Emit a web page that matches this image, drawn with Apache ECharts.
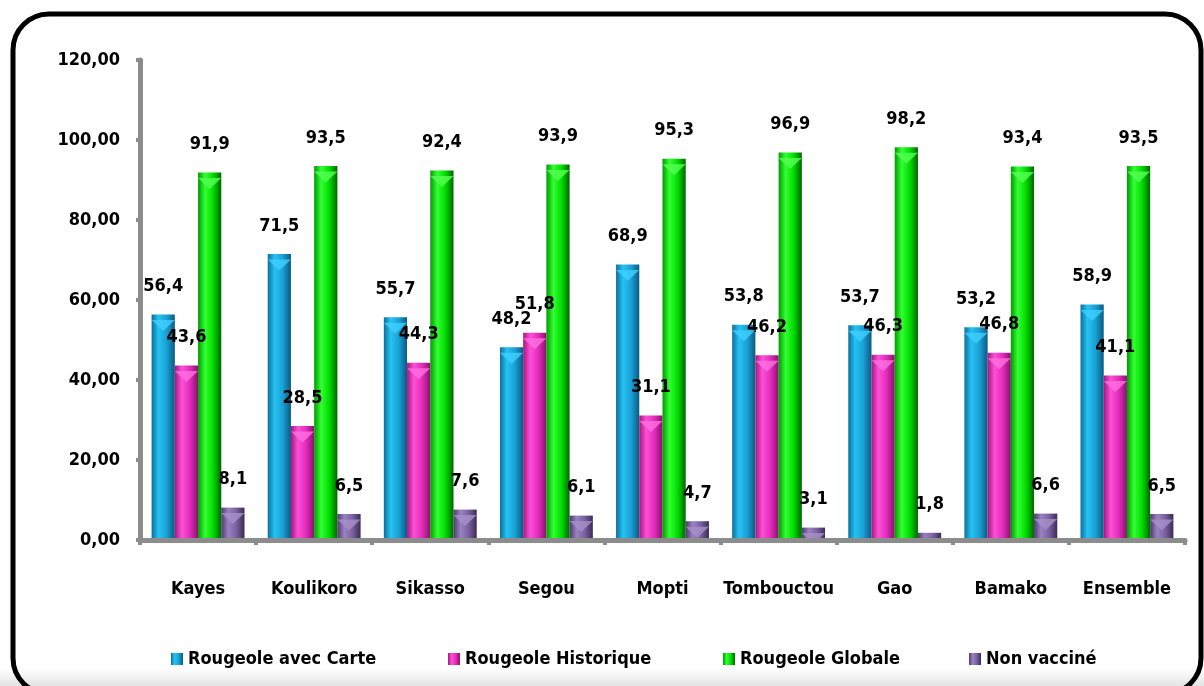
<!DOCTYPE html>
<html>
<head>
<meta charset="utf-8">
<script src="https://cdn.jsdelivr.net/npm/echarts@6/dist/echarts.min.js"></script>
<style>
html,body{margin:0;padding:0;background:#fff;}
#chart{width:1204px;height:686px;}
</style>
</head>
<body>
<div id="chart"></div>
<script>
const categories = ['Kayes','Koulikoro','Sikasso','Segou','Mopti','Tombouctou','Gao','Bamako','Ensemble'];
const seriesNames = ['Rougeole avec Carte','Rougeole Historique','Rougeole Globale','Non vacciné'];
const avecCarte = [56.4,71.5,55.7,48.2,68.9,53.8,53.7,53.2,58.9];
const historique = [43.6,28.5,44.3,51.8,31.1,46.2,46.3,46.8,41.1];
const globale = [91.9,93.5,92.4,93.9,95.3,96.9,98.2,93.4,93.5];
const nonVaccine = [8.1,6.5,7.6,6.1,4.7,3.1,1.8,6.6,6.5];
const yTicks = [0,20,40,60,80,100,120];

const FONT = '"Liberation Sans Narrow","DejaVu Sans Condensed","Arial Narrow",sans-serif';
const colorSets = [
  ['#0b6f9c','#25c3f2','#1a9fd4','#0a5a80','#3fd0ff'],
  ['#a3187f','#ff4fd6','#e22cbb','#8a116a','#ff6fe0'],
  ['#009a00','#33ff33','#00dd00','#006600','#55ff55'],
  ['#4e3a6b','#9a82c0','#7a60a0','#3b2b52','#a890cc']
];
function grad(c){
  return {type:'linear',x:0,y:0,x2:1,y2:0,colorStops:[
    {offset:0,color:c[0]},{offset:0.3,color:c[1]},{offset:0.65,color:c[2]},{offset:1,color:c[3]}]};
}
const dataSets = [avecCarte, historique, globale, nonVaccine];
const series = seriesNames.map((n,i)=>({
  name:n, type:'bar', data:dataSets[i], barGap:'0%', barCategoryGap:'20%',
  itemStyle:{color:grad(colorSets[i])},
  label:{show:true, position:'top', distance:19, color:'#000',
    fontFamily:FONT, fontWeight:'bold', fontSize:18,
    formatter:p=>p.value.toFixed(1).replace('.',',')}
}));
const caps = seriesNames.map((n,i)=>({
  name:n, type:'pictorialBar', data:dataSets[i], barGap:'0%', barCategoryGap:'20%',
  symbol:'triangle', symbolRotate:180, symbolSize:['100%',11], symbolPosition:'end',
  symbolOffset:[0,'50%'], z:3, silent:true, clip:true,
  itemStyle:{color:colorSets[i][4], opacity:0.8}
}));
const legendX = [166, 443, 718, 964];
const legends = seriesNames.map((n,i)=>({
  data:[n], left:legendX[i], top:645, itemWidth:12, itemHeight:12, itemGap:6,
  icon:'rect', selectedMode:false,
  textStyle:{color:'#000', fontFamily:FONT, fontWeight:'bold', fontSize:18}
}));

const chart = echarts.init(document.getElementById('chart'));
chart.setOption({
  animation:false,
  backgroundColor:'#fff',
  color: colorSets.map(c=>c[2]),
  legend: legends,
  grid:{left:140, right:19, top:60, bottom:146},
  xAxis:{type:'category', data:categories, z:5,
    axisLine:{lineStyle:{color:'#8c8c8c', width:5}},
    axisTick:{show:true, length:5, lineStyle:{color:'#8c8c8c', width:4}},
    axisLabel:{interval:0, color:'#000', fontFamily:FONT, fontWeight:'bold', fontSize:18, margin:40}
  },
  yAxis:{type:'value', min:0, max:120, interval:20,
    axisLine:{show:true, lineStyle:{color:'#8c8c8c', width:5}},
    axisTick:{show:true, length:4, lineStyle:{color:'#8c8c8c', width:4}},
    splitLine:{show:false},
    axisLabel:{color:'#000', fontFamily:FONT, fontWeight:'bold', fontSize:18, margin:20,
      formatter:v=>v.toFixed(2).replace('.',',')}
  },
  graphic:[
    {type:'rect', z:-1, shape:{x:0,y:668,width:1204,height:18},
      style:{fill:{type:'linear',x:0,y:0,x2:0,y2:1,colorStops:[{offset:0,color:'#ffffff'},{offset:1,color:'#e4e4e4'}]}}},
    {type:'rect', z:100, shape:{x:13,y:14,width:1188,height:680,r:36},
      style:{fill:'none', stroke:'#000', lineWidth:5}}
  ],
  series: series.concat(caps)
});
</script>
</body>
</html>
